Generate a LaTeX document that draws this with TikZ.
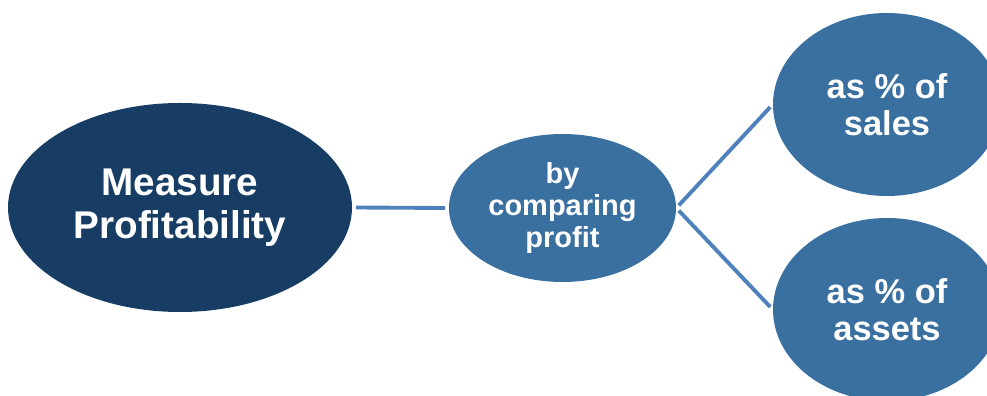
\documentclass[tikz,border=0pt]{standalone}
\usepackage{fontspec}
\setmainfont{Liberation Sans}
\usetikzlibrary{shapes.geometric}
\definecolor{navy}{RGB}{23,61,101}
\definecolor{midblue}{RGB}{58,112,160}
\definecolor{linkblue}{RGB}{79,129,189}
\tikzset{
  bubble/.style={ellipse,fill=midblue,text=white,align=center,inner sep=0pt},
  link/.style={draw=linkblue,line width=2.2pt,shorten <=2pt,shorten >=2pt}
}
\begin{document}
\begin{tikzpicture}[line join=round]
  \useasboundingbox (0,0) rectangle (19.74,7.92);
  \node (measure) [bubble,fill=navy,minimum width=6.88cm,minimum height=4.18cm,
    font=\bfseries\fontsize{22}{24.4}\selectfont] at (3.6,3.77) {Measure\\Profitability};
  \node (cmp) [bubble,minimum width=4.54cm,minimum height=2.96cm,
    font=\bfseries\fontsize{16.5}{18.1}\selectfont] at (11.25,3.76) {by\\comparing\\profit};
  \node (sales) [bubble,minimum width=4.56cm,minimum height=3.66cm,
    font=\bfseries\fontsize{19.6}{21}\selectfont] at (17.74,5.83) {as \% of\\sales};
  \node (assets) [bubble,minimum width=4.56cm,minimum height=3.66cm,
    font=\bfseries\fontsize{19.6}{21}\selectfont] at (17.74,1.73) {as \% of\\assets};
  \draw [link] (measure.east) -- (cmp.west);
  \draw [link] (cmp.east) -- (sales.west);
  \draw [link] (cmp.east) -- (assets.west);
\end{tikzpicture}
\end{document}
